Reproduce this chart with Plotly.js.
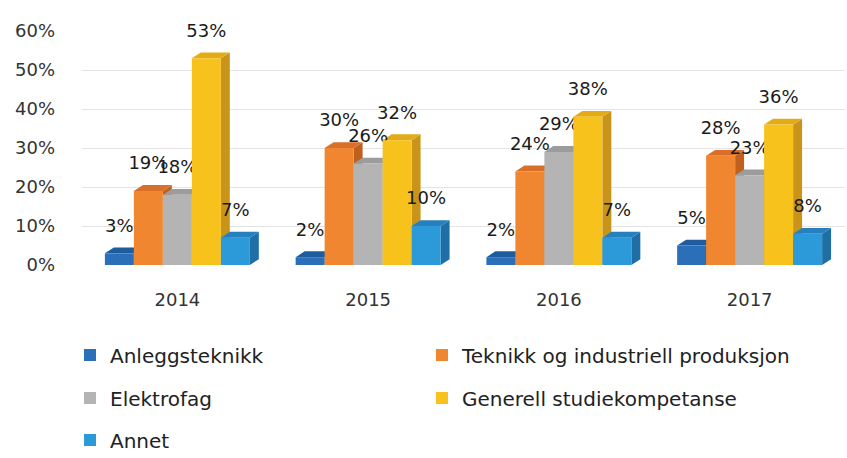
<!DOCTYPE html>
<html>
<head>
<meta charset="utf-8">
<script src="https://cdn.plot.ly/plotly-3.0.1.min.js"></script>
<style>html,body{margin:0;padding:0;background:#fff;}#chart{width:847px;height:458px;}</style>
</head>
<body>
<div id="chart"></div>
<script>
const years = ["2014", "2015", "2016", "2017"];
const seriesNames = ["Anleggsteknikk", "Teknikk og industriell produksjon", "Elektrofag", "Generell studiekompetanse", "Annet"];
const anleggsteknikk = [3, 2, 2, 5];
const teknikk = [19, 30, 24, 28];
const elektrofag = [18, 26, 29, 23];
const generell = [53, 32, 38, 36];
const annet = [7, 10, 7, 8];
const yTicks = [0, 10, 20, 30, 40, 50, 60];
const yTickText = ["0%", "10%", "20%", "30%", "40%", "50%", "60%"];

const seriesValues = [anleggsteknikk, teknikk, elektrofag, generell, annet];
const colors = ["#2a6fb8", "#f08630", "#b4b4b4", "#f8c21c", "#2c9ad8"];
const topColors = ["#1f5c9e", "#d8702a", "#9c9c9c", "#e3ab16", "#2580bd"];
const sideColors = ["#1b4f8a", "#c0601f", "#8a8a8a", "#c8951a", "#1f6ea6"];
const FONT = "DejaVu Sans, Noto Sans, sans-serif";

const BARGAP = 0.24;
const nSeries = seriesNames.length;
const barW = (1 - BARGAP) / nSeries;
const DEPTH_X = 0.047;   // depth of the 3D look in category units
const DEPTH_Y = 1.5;     // depth of the 3D look in percent units

const xIdx = years.map((_, j) => j);

// legend slot for each series: [left px, centre y px] in the 847x458 page
const legendSlots = [[70, 355], [422, 355], [70, 398], [422, 398], [70, 440]];
const legendIds = ["legend", "legend2", "legend3", "legend4", "legend5"];

const traces = seriesNames.map((name, i) => ({
  type: "bar",
  name: name,
  x: xIdx,
  y: seriesValues[i],
  text: seriesValues[i].map(v => "<span style='font-size:18px'>" + v + "%</span><br> "),
  textposition: "outside",
  constraintext: "none",
  textfont: {family: FONT, size: 12, color: "#1a1a1a"},
  cliponaxis: false,
  marker: {color: colors[i], line: {width: 0}},
  legend: legendIds[i],
  hoverinfo: "skip"
}));

// top and side faces for the 3D look, derived from the same data through the axes
const shapes = [];
seriesValues.forEach((vals, i) => {
  vals.forEach((v, j) => {
    const left = j - (1 - BARGAP) / 2 + barW * i;
    const right = left + barW;
    shapes.push({
      type: "path", xref: "x", yref: "y", layer: "between",
      path: `M ${right},0 L ${right + DEPTH_X},${DEPTH_Y} L ${right + DEPTH_X},${v + DEPTH_Y} L ${right},${v} Z`,
      fillcolor: sideColors[i], line: {width: 0}
    });
    shapes.push({
      type: "path", xref: "x", yref: "y", layer: "between",
      path: `M ${left},${v} L ${right},${v} L ${right + DEPTH_X},${v + DEPTH_Y} L ${left + DEPTH_X},${v + DEPTH_Y} Z`,
      fillcolor: topColors[i], line: {width: 0}
    });
  });
});

const layout = {
  width: 847, height: 458,
  margin: {l: 82, r: 2, t: 31, b: 193},
  paper_bgcolor: "#ffffff", plot_bgcolor: "#ffffff",
  barmode: "group",
  bargap: BARGAP, bargroupgap: 0,
  showlegend: true,
  font: {family: FONT, size: 18, color: "#333"},
  xaxis: {
    type: "linear", range: [-0.5, 3.5],
    tickmode: "array", tickvals: xIdx, ticktext: years,
    showgrid: false, zeroline: false, showline: false,
    ticks: "", ticklabelstandoff: 22,
    tickfont: {family: FONT, size: 18, color: "#333"}
  },
  yaxis: {
    range: [0, 60], tickmode: "array", tickvals: yTicks, ticktext: yTickText,
    showgrid: true, gridcolor: "#e4e4e4", gridwidth: 1,
    zeroline: false, showline: false, ticks: "",
    ticklabelstandoff: 26,
    tickfont: {family: FONT, size: 18, color: "#333"}
  },
  shapes: shapes
};

legendIds.forEach((id, i) => {
  layout[id] = {
    orientation: "h",
    xref: "container", yref: "container",
    x: legendSlots[i][0] / 847, xanchor: "left",
    y: 1 - legendSlots[i][1] / 458, yanchor: "middle",
    font: {family: FONT, size: 20, color: "#222"},
    bgcolor: "rgba(0,0,0,0)"
  };
});

Plotly.newPlot("chart", traces, layout, {displayModeBar: false, staticPlot: true});
</script>
</body>
</html>
